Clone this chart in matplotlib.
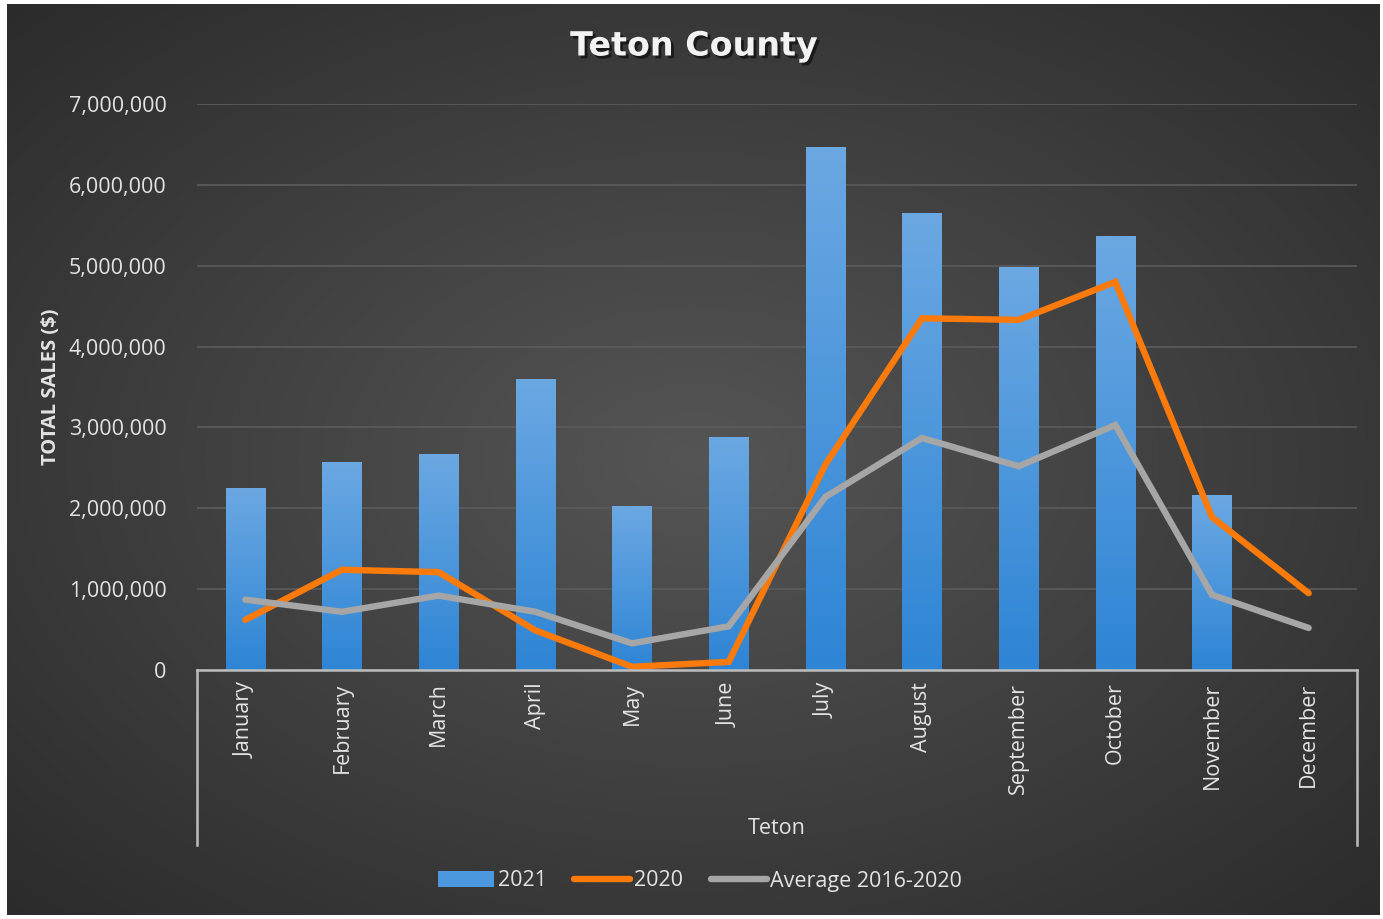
import numpy as np
import matplotlib
matplotlib.use("Agg")
import matplotlib.pyplot as plt
from matplotlib import patheffects as pe
from matplotlib.transforms import blended_transform_factory
from matplotlib.patches import Patch
from matplotlib.lines import Line2D

months = ["January", "February", "March", "April", "May", "June", "July",
          "August", "September", "October", "November", "December"]
sales_2021 = [2250000, 2570000, 2660000, 3590000, 2020000, 2880000, 6460000,
              5640000, 4980000, 5360000, 2160000, np.nan]
sales_2020 = [620000, 1240000, 1210000, 490000, 40000, 100000, 2540000,
              4350000, 4330000, 4800000, 1890000, 950000]
avg_2016_2020 = [870000, 720000, 920000, 720000, 330000, 540000, 2140000,
                 2870000, 2520000, 3030000, 930000, 520000]
y_ticks = [0, 1000000, 2000000, 3000000, 4000000, 5000000, 6000000, 7000000]

FONT = "Open Sans"
TXT = "#e3e3e3"
W, H = 1383, 919
fig = plt.figure(figsize=(W / 100, H / 100), dpi=100, facecolor="white")

# dark gradient panel
bg = fig.add_axes([7 / W, 1 - 915 / H, (1380 - 7) / W, (915 - 4) / H], zorder=0)
yy, xx = np.mgrid[0:1:300j, 0:1:450j]
r = np.sqrt(((xx - 0.5) / 0.75) ** 2 + ((yy - 0.5) / 0.75) ** 2)
r = np.clip(r / 0.95, 0, 1)
c_in = np.array([0x55, 0x55, 0x55]) / 255
c_out = np.array([0x2b, 0x2b, 0x2b]) / 255
img = c_in[None, None, :] * (1 - r[..., None]) + c_out[None, None, :] * r[..., None]
bg.imshow(img, aspect="auto", extent=[0, 1, 0, 1], interpolation="bilinear")
bg.set_axis_off()

ax = fig.add_axes([197 / W, 1 - 670 / H, (1357 - 197) / W, (670 - 104) / H], zorder=1)
ax.patch.set_alpha(0)
x = np.arange(len(months))
bars = ax.bar(x, sales_2021, width=0.41, color="#3f8fdc", zorder=2)
grad = np.linspace(0, 1, 100)[:, None]
blue_top = np.array([0x6b, 0xa8, 0xe2]) / 255
blue_bot = np.array([0x2e, 0x85, 0xd5]) / 255
gimg = blue_top[None, None, :] * (1 - grad[..., None]) + blue_bot[None, None, :] * grad[..., None]
for b in bars:
    h = b.get_height()
    if np.isnan(h) or h <= 0:
        continue
    x0 = b.get_x()
    ax.imshow(gimg, aspect="auto", extent=[x0, x0 + b.get_width(), 0, h],
              zorder=2.1, interpolation="bilinear")

ax.plot(x, sales_2020, color="#fb7a0c", lw=4.6, solid_capstyle="round",
        solid_joinstyle="miter", zorder=3)
ax.plot(x, avg_2016_2020, color="#a6a6a6", lw=4.6, solid_capstyle="round",
        solid_joinstyle="miter", zorder=4)

ax.set_xlim(-0.5, len(months) - 0.5)
ax.set_ylim(0, 7000000)
ax.set_yticks(y_ticks)
ax.set_yticklabels([f"{v:,}" for v in y_ticks], fontsize=15.5, color=TXT, family=FONT)
ax.yaxis.grid(True, color="#5c5c5c", lw=1.2, zorder=0)
ax.set_axisbelow(True)
ax.tick_params(axis="y", length=0, pad=22)
ax.set_xticks(x)
ax.set_xticklabels(months, rotation=90, fontsize=15.5, color=TXT, family=FONT,
                   va="top", ha="center")
ax.tick_params(axis="x", length=0, pad=9)
for s in ["top", "right", "left"]:
    ax.spines[s].set_visible(False)
ax.spines["bottom"].set_color("#bdbdbd")
ax.spines["bottom"].set_linewidth(1.8)
ax.spines["bottom"].set_zorder(5)

# multi-level category bracket
tr = blended_transform_factory(ax.transAxes, fig.transFigure)
for xa in (0, 1):
    ax.add_line(Line2D([xa, xa], [1 - 670 / H, 1 - 845 / H], transform=tr,
                       color="#bdbdbd", lw=1.8, clip_on=False))
ax.text(0.5, 1 - 829 / H, "Teton", transform=tr, ha="center", va="center",
        fontsize=15.5, color=TXT, family=FONT)

fig.text(51 / W, 1 - 387 / H, "TOTAL SALES ($)", rotation=90, ha="center", va="center",
         fontsize=14.5, fontweight="bold", color=TXT, family=FONT)

fig.text(694 / W, 1 - 46 / H, "Teton County", ha="center", va="center", fontsize=24,
         fontweight="bold", color="#f2f2f2", family="DejaVu Sans",
         path_effects=[pe.withSimplePatchShadow(offset=(2, -2), shadow_rgbFace="black", alpha=0.55)])

handles = [Patch(facecolor="#4b98df", edgecolor="none"),
           Line2D([], [], color="#fb7a0c", lw=4.6, solid_capstyle="round"),
           Line2D([], [], color="#a6a6a6", lw=4.6, solid_capstyle="round")]
leg = fig.legend(handles, ["2021", "2020", "Average 2016-2020"], loc="center",
                 bbox_to_anchor=(700 / W, 1 - 881 / H), ncol=3, frameon=False,
                 prop={"family": FONT, "size": 15.5}, labelcolor=TXT,
                 handlelength=2.6, handletextpad=0.15, columnspacing=1.3,
                 handleheight=0.8)

fig.savefig("out.png", dpi=100, facecolor="white")
